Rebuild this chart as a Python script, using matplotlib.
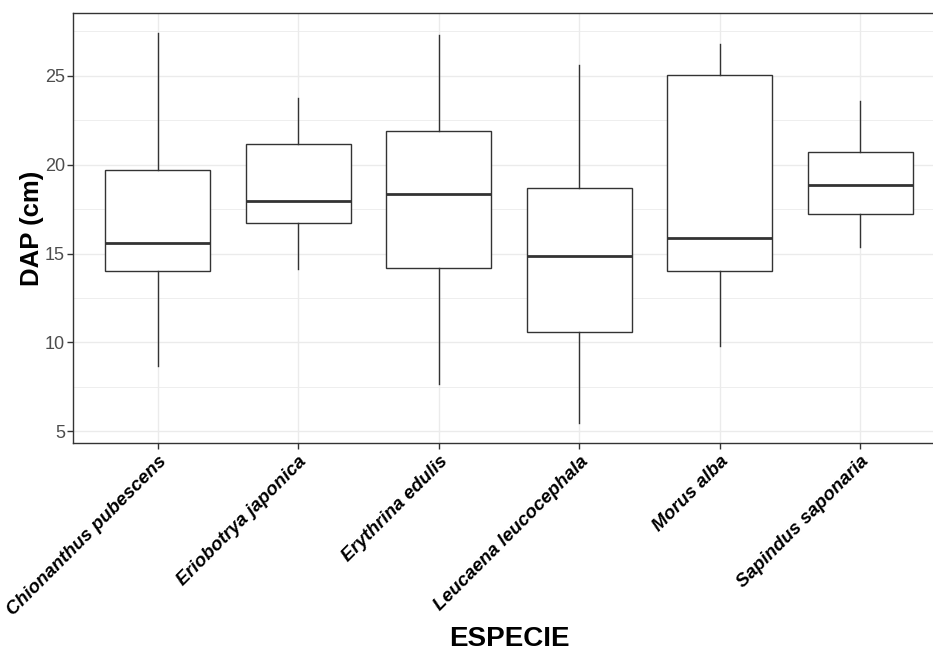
import matplotlib
matplotlib.use("Agg")
import matplotlib.pyplot as plt
import numpy as np

species = ["Chionanthus pubescens", "Eriobotrya japonica", "Erythrina edulis",
           "Leucaena leucocephala", "Morus alba", "Sapindus saponaria"]
whisker_low = [8.66, 14.12, 7.67, 5.45, 9.82, 15.35]
q1 = [13.99, 16.74, 14.19, 10.61, 14.03, 17.21]
median = [15.58, 17.98, 18.36, 14.85, 15.86, 18.83]
q3 = [19.69, 21.17, 21.90, 18.68, 25.02, 20.70]
whisker_high = [27.42, 23.74, 27.27, 25.62, 26.80, 23.55]
y_ticks = [5, 10, 15, 20, 25]

plt.rcParams['font.family'] = ['Liberation Sans', 'DejaVu Sans']

fig = plt.figure(figsize=(9.33, 6.52), dpi=100)
ax = fig.add_axes([73.4 / 933, (652 - 443) / 652, (944.6 - 73.4) / 933, (443 - 13) / 652])

stats = []
for i, name in enumerate(species):
    stats.append(dict(label=name, whislo=whisker_low[i], q1=q1[i], med=median[i],
                      q3=q3[i], whishi=whisker_high[i], fliers=[]))

positions = np.arange(1, len(species) + 1)
edge = "#333333"
ax.bxp(stats, positions=positions, widths=0.75, showfliers=False, showcaps=False,
       patch_artist=True,
       boxprops=dict(facecolor="white", edgecolor=edge, linewidth=1.0),
       whiskerprops=dict(color=edge, linewidth=1.0),
       medianprops=dict(color=edge, linewidth=2.0),
       zorder=3)

ax.set_xlim(0.4, 6.6)
ax.set_ylim(4.35, 28.52)
ax.set_yticks(y_ticks)
ax.set_yticks(np.arange(7.5, 28.6, 5), minor=True)
ax.set_xticks(positions)
ax.set_xticklabels(species, rotation=45, ha='right', va='top', rotation_mode='anchor',
                   fontweight='bold', fontstyle='italic', fontsize=13.5, color='black')
ax.tick_params(axis='x', which='major', length=4, width=1, color=edge, pad=3)
ax.tick_params(axis='y', which='major', length=4, width=1, color=edge, labelsize=13,
               labelcolor='#4D4D4D', pad=2)
ax.tick_params(axis='y', which='minor', length=0)

ax.grid(True, which='major', color='#EBEBEB', linewidth=1.0, zorder=0)
ax.grid(True, which='minor', axis='y', color='#EBEBEB', linewidth=0.6, zorder=0)
ax.set_axisbelow(True)

for s in ax.spines.values():
    s.set_color(edge)
    s.set_linewidth(1.0)

ax.set_ylabel("DAP (cm)", fontsize=18.5, fontweight='bold', labelpad=1)
ax.set_xlabel("ESPECIE", fontsize=20, fontweight='bold', labelpad=5)

fig.savefig("out.png", dpi=100)
